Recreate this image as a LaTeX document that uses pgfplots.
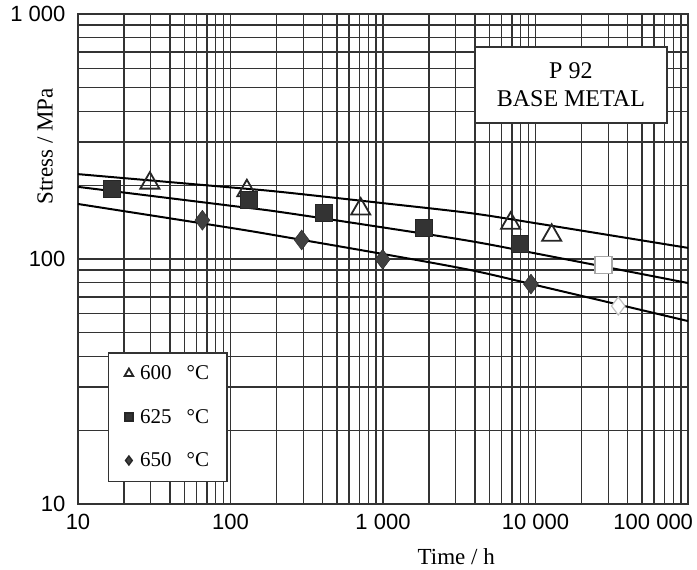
\documentclass[border=0pt]{standalone}
\usepackage{fontspec}
\setmainfont{Liberation Serif}
\newfontfamily\ticksf{Liberation Sans}
\usepackage{pgfplots}
\pgfplotsset{compat=1.18}

\begin{document}
\begin{tikzpicture}
\begin{axis}[
  name=ax,
  xmode=log, ymode=log,
  width=610pt, height=490pt, scale only axis,
  xmin=10, xmax=100000, ymin=10, ymax=1000,
  xtick={10,100,1000,10000,100000},
  xticklabels={10,100,1 000,10 000,\makebox[10pt][r]{100 000}},
  ytick={10,100,1000},
  yticklabels={10,100,1 000\hspace{-14pt}},
  grid=both,
  major grid style={black!80, line width=1.4pt},
  minor grid style={black!80, line width=1.4pt},
  major tick length=0pt, minor tick length=0pt,
  axis line style={black!80, line width=1.4pt},
  tick label style={font=\ticksf\fontsize{22}{26}\selectfont},
  xticklabel style={yshift=-7pt},
  yticklabel style={xshift=-9pt},
  xlabel={Time / h}, ylabel={Stress / MPa},
  label style={font=\fontsize{23}{27}\selectfont},
  xlabel style={at={(axis description cs:0.62,-0.108)}, anchor=center},
  ylabel style={at={(axis description cs:-0.054,0.73)}, anchor=center},
  legend style={at={(axis description cs:0.049,0.045)}, anchor=south west,
    draw=black!80, line width=1.4pt, fill=white,
    font=\fontsize{21}{24}\selectfont, row sep=24pt,
    inner xsep=16pt, inner ysep=11pt},
  legend cell align=left,
]
% fitted curves
\addplot[black, line width=2pt, smooth, forget plot] coordinates {
  (10,222) (100,196) (211,188) (1000,169) (3720,154) (10000,140) (100000,111)};
\addplot[black, line width=2pt, smooth, forget plot] coordinates {
  (10,197) (100,165) (211,155.6) (1000,134.5) (3720,118.4) (10000,105.4) (100000,79.8)};
\addplot[black, line width=2pt, smooth, forget plot] coordinates {
  (10,167.7) (100,134) (211,124) (1000,104.8) (3720,90.2) (10000,78.3) (100000,55.8)};

% data
\addplot[only marks, mark=triangle, mark size=11pt,
  mark options={draw=black!85, fill=white, line width=1.8pt},
  legend image code/.code={\draw[black!80, line width=0.9pt, mark=triangle, mark size=5pt] plot coordinates {(0.2cm,0cm)};}]
  coordinates {(29.6,204) (128,190) (714,160) (6870,140) (12770,125)};
\addlegendentry{\kern5pt 600\hspace{15pt}°C\hspace{-16pt}}
\addplot[only marks, mark=square*, mark size=8.5pt,
  mark options={draw=black!85, fill=black!80},
  legend image code/.code={\draw[black!85, fill=black!85, mark=square*, mark size=4pt] plot coordinates {(0.2cm,0cm)};}]
  coordinates {(16.6,193) (131,175) (406,155) (1858,134) (7910,115)};
\addlegendentry{\kern5pt 625\hspace{15pt}°C\hspace{-16pt}}
\addplot[only marks, mark=diamond*, mark size=10pt,
  mark options={draw=black!85, fill=black!75},
  legend image code/.code={\draw[black!85, fill=black!85, mark=diamond*, mark size=4.5pt] plot coordinates {(0.2cm,0cm)};}]
  coordinates {(65.4,144) (293,119.6) (995,99.7) (9340,79)};
\addlegendentry{\kern5pt 650\hspace{15pt}°C\hspace{-16pt}}

% extrapolated points (open, light)
\addplot[only marks, mark=square*, mark size=8.5pt, forget plot,
  mark options={draw=black!35, fill=white, line width=1.2pt}]
  coordinates {(27900,94.5)};
\addplot[only marks, mark=diamond*, mark size=9pt, forget plot,
  mark options={draw=black!25, fill=white, line width=1.2pt}]
  coordinates {(34900,64.3)};

\node[draw=black!80, line width=1.4pt, fill=white, minimum width=192pt,
  minimum height=76pt, align=center, font=\fontsize{24}{28}\selectfont]
  at (rel axis cs:0.808,0.855) {P 92\\BASE METAL};
\end{axis}
\pgfresetboundingbox
\path ([shift={(-78pt,-66pt)}]ax.south west) rectangle ([shift={(9pt,14pt)}]ax.north east);
\end{tikzpicture}
\end{document}
